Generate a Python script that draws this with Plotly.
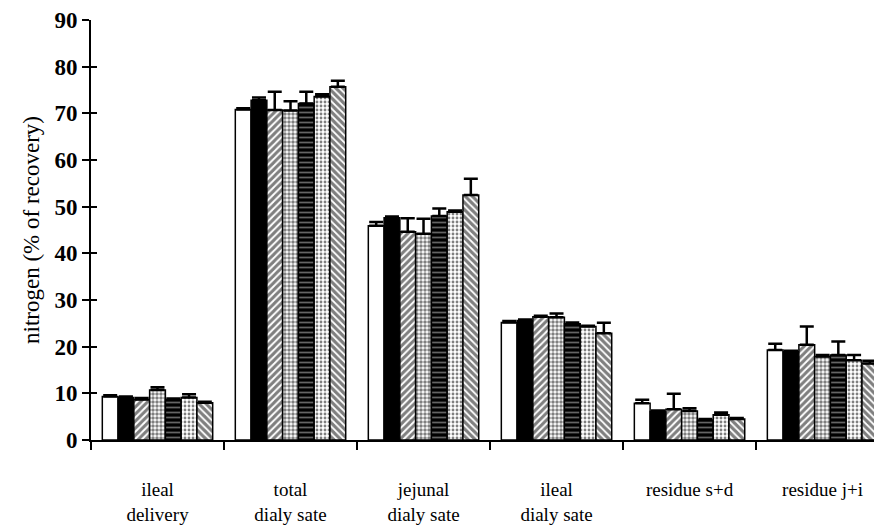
import plotly.graph_objects as go

categories = ["ileal<br>delivery", "total<br>dialy sate", "jejunal<br>dialy sate",
              "ileal<br>dialy sate", "residue s+d", "residue j+i"]

s1 = [9.3, 70.8, 45.9, 25.2, 7.9, 19.3]
s2 = [9.1, 72.8, 47.6, 25.6, 6.1, 18.9]
s3 = [8.7, 70.7, 44.6, 26.4, 6.6, 20.4]
s4 = [10.7, 70.6, 44.2, 26.3, 6.2, 17.9]
s5 = [8.7, 72.1, 48.0, 24.9, 4.3, 18.2]
s6 = [9.1, 73.6, 48.9, 24.3, 5.4, 17.1]
s7 = [8.0, 75.7, 52.5, 22.9, 4.5, 16.4]

e1 = [0.3, 0.3, 0.8, 0.3, 0.7, 1.3]
e2 = [0.2, 0.6, 0.3, 0.2, 0.2, 0.2]
e3 = [0.3, 3.9, 2.9, 0.2, 3.3, 3.9]
e4 = [0.6, 2.0, 3.2, 0.8, 0.6, 0.3]
e5 = [0.2, 2.5, 1.6, 0.3, 0.2, 2.9]
e6 = [0.7, 0.5, 0.3, 0.2, 0.5, 1.1]
e7 = [0.2, 1.3, 3.5, 2.2, 0.2, 0.6]

yticks = [0, 10, 20, 30, 40, 50, 60, 70, 80, 90]

series = [s1, s2, s3, s4, s5, s6, s7]
errors = [e1, e2, e3, e4, e5, e6, e7]

styles = [
    dict(color="white"),
    dict(color="black"),
    dict(color="white", pattern=dict(shape="/", fgcolor="black", bgcolor="white", size=5, solidity=0.6)),
    dict(color="white", pattern=dict(shape=".", fgcolor="black", bgcolor="white", size=4, solidity=0.6)),
    dict(color="black", pattern=dict(shape="-", fgcolor="#c8c8c8", bgcolor="black", size=5, solidity=0.35)),
    dict(color="white", pattern=dict(shape=".", fgcolor="black", bgcolor="white", size=4, solidity=0.4)),
    dict(color="white", pattern=dict(shape="\\", fgcolor="black", bgcolor="white", size=5, solidity=0.65)),
]

fig = go.Figure()
for vals, errs, st in zip(series, errors, styles):
    marker = dict(st)
    marker["line"] = dict(color="black", width=1.5)
    fig.add_trace(go.Bar(
        x=categories, y=vals, marker=marker,
        error_y=dict(type="data", symmetric=False, array=errs,
                     arrayminus=[0] * len(errs), color="black",
                     thickness=2.5, width=7),
        showlegend=False,
    ))

fig.add_trace(go.Scatter(x=categories, y=[None] * 6, yaxis="y2", showlegend=False,
                         hoverinfo="skip"))

# the page body adds an 8px offset; margins compensate so the plot lands where the reference has it
fig.update_layout(
    width=882, height=527,
    margin=dict(l=83, r=8, t=12, b=95),
    paper_bgcolor="white", plot_bgcolor="white",
    barmode="group", bargap=0.17, bargroupgap=0,
    font=dict(family="Liberation Serif", color="black"),
    xaxis=dict(
        type="category", range=[-0.5, 5.447], automargin=False,
        showline=True, linecolor="black", linewidth=2,
        tickson="boundaries", ticks="outside", ticklen=8, tickwidth=1.5,
        tickcolor="black", tickfont=dict(size=19, family="Liberation Serif"),
        ticklabelstandoff=31,
    ),
    yaxis=dict(
        range=[0, 90], tickvals=yticks, automargin=False,
        showline=True, linecolor="black", linewidth=2, showgrid=False,
        ticks="outside", ticklen=7, tickwidth=1.5, tickcolor="black",
        tickfont=dict(size=23, family="Liberation Serif", weight="bold"),
        title=dict(text="nitrogen (% of recovery)", font=dict(size=23, family="Liberation Serif"),
                   standoff=8),
        zeroline=False,
    ),
    yaxis2=dict(
        overlaying="y", side="left", range=[0, 90], tickvals=yticks, automargin=False,
        ticks="inside", ticklen=6, tickwidth=1.5, tickcolor="black",
        showticklabels=False, showgrid=False, zeroline=False, showline=False,
    ),
)

fig.write_html("out.html")
